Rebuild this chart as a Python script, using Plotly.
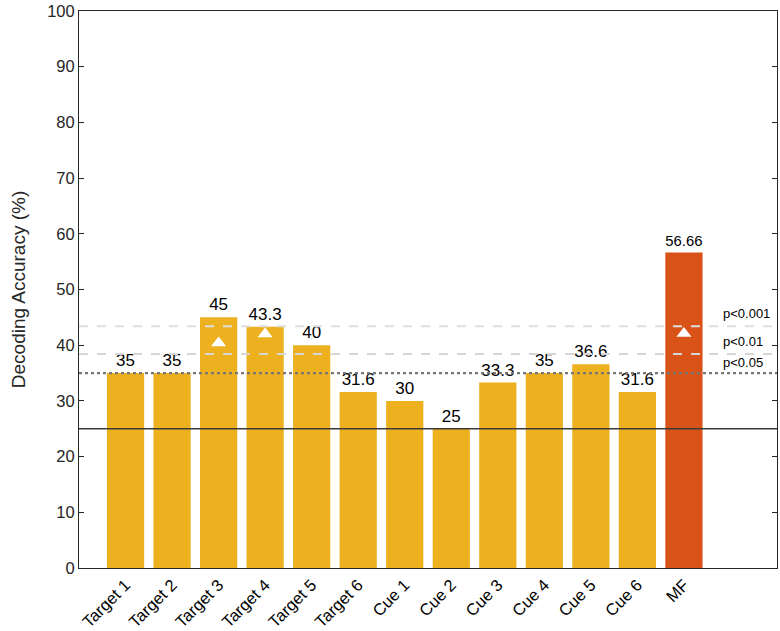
import plotly.graph_objects as go

categories = ["Target 1", "Target 2", "Target 3", "Target 4", "Target 5", "Target 6",
              "Cue 1", "Cue 2", "Cue 3", "Cue 4", "Cue 5", "Cue 6", "MF"]
accuracy = [35, 35, 45, 43.3, 40, 31.6, 30, 25, 33.3, 35, 36.6, 31.6, 56.66]
bar_labels = ["35", "35", "45", "43.3", "40", "31.6", "30", "25", "33.3", "35", "36.6", "31.6", "56.66"]
marker_cats = ["Target 3", "Target 4", "MF"]
marker_vals = [40.4, 42.0, 42.1]
chance_level = 25
thresholds = [35, 38.4, 43.4]
threshold_labels = ["p<0.05", "p<0.01", "p<0.001"]
threshold_label_y = [36.9, 40.7, 45.7]

xpos = list(range(1, len(categories) + 1))
colors = ["#EDB120"] * (len(categories) - 1) + ["#D95319"]

fig = go.Figure()
fig.add_trace(go.Bar(
    x=xpos, y=accuracy, width=0.8, marker=dict(color=colors, line=dict(width=0)),
    text=bar_labels, textposition="outside", cliponaxis=False,
    textfont=dict(size=17, color="black", family="Liberation Sans"),
    showlegend=False,
))
mx = [xpos[categories.index(c)] for c in marker_cats]
fig.add_trace(go.Scatter(
    x=mx, y=marker_vals, mode="markers",
    marker=dict(symbol="triangle-up", size=13, color="white", line=dict(width=0)),
    showlegend=False,
))

# threshold lines
fig.add_hline(y=chance_level, line=dict(color="#3a3a3a", width=1.3))
fig.add_hline(y=thresholds[0], line=dict(color="#777777", width=2.2, dash="dot"))
fig.add_hline(y=thresholds[1], line=dict(color="#d6d6d6", width=2, dash="dash"))
fig.add_hline(y=thresholds[2], line=dict(color="#dedede", width=2, dash="dash"))

for lbl, yy in zip(threshold_labels, threshold_label_y):
    fig.add_annotation(x=13.8, y=yy, xref="x", yref="y", text=lbl, showarrow=False,
                       xanchor="left", yanchor="middle",
                       font=dict(size=13, color="black", family="Liberation Sans"))

fig.update_layout(
    width=780, height=631,
    margin=dict(l=79, r=3, t=11, b=63, autoexpand=False),
    plot_bgcolor="white", paper_bgcolor="white",
    font=dict(family="Liberation Sans", color="#262626"),
    bargap=0.2,
)
fig.update_xaxes(
    range=[0, 15], tickmode="array", tickvals=xpos, ticktext=categories,
    tickangle=-45, tickfont=dict(size=16.5, color="black"), automargin=False,
    showline=True, linecolor="#262626", linewidth=1, mirror=True,
    ticks="", showgrid=False, zeroline=False,
)
fig.update_yaxes(
    range=[0, 100], dtick=10, tickfont=dict(size=16.5, color="#262626"), automargin=False,
    title=dict(text="Decoding Accuracy (%)", font=dict(size=19, color="#262626"), standoff=16),
    showline=True, linecolor="#262626", linewidth=1, mirror="ticks",
    ticks="inside", ticklen=5, tickcolor="#262626",
    showgrid=False, zeroline=False,
)

fig.write_html("out.html", config={"displayModeBar": False},
               post_script="document.body.style.margin='0';document.body.style.overflow='hidden';")
